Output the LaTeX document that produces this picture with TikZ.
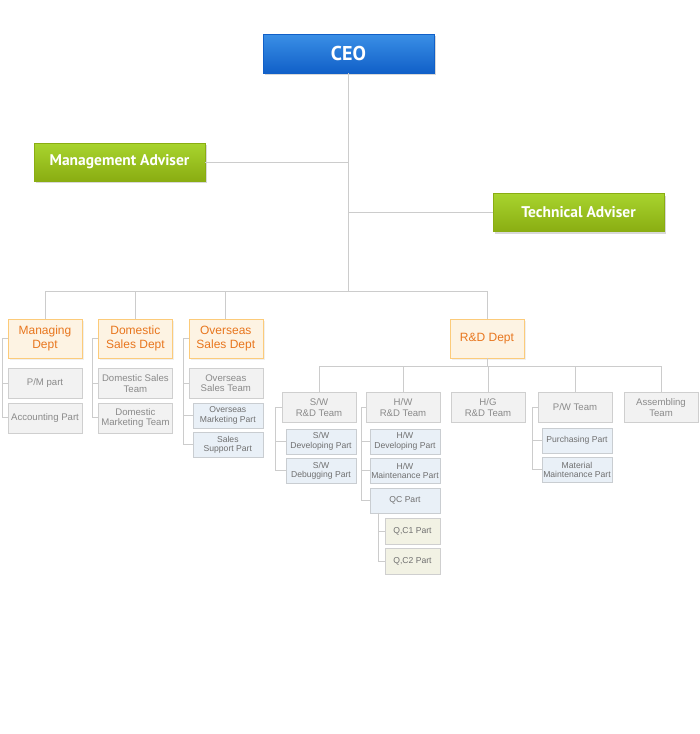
\documentclass[tikz,border=0pt]{standalone}
\usepackage{fontspec}
\setmainfont{Liberation Sans}
\newfontfamily\headfont{PT Sans}
\usetikzlibrary{positioning,calc,shadows}

\definecolor{ceoTop}{HTML}{3A8FE6}
\definecolor{ceoBot}{HTML}{1160C8}
\definecolor{advTop}{HTML}{A8D42E}
\definecolor{advBot}{HTML}{8AAD12}
\definecolor{deptFill}{HTML}{FDF3E3}
\definecolor{deptLine}{HTML}{FCCB7A}
\definecolor{deptText}{HTML}{E8761E}
\definecolor{teamFill}{HTML}{F2F2F2}
\definecolor{teamLine}{HTML}{CFCFCF}
\definecolor{teamText}{HTML}{8A8A8A}
\definecolor{partFill}{HTML}{E9F0F7}
\definecolor{partLine}{HTML}{C9CDD1}
\definecolor{partText}{HTML}{707070}
\definecolor{qcFill}{HTML}{F2F2E4}
\definecolor{wire}{HTML}{CCCCCC}

\begin{document}
\begin{tikzpicture}[x=1pt, y=-1pt]

% Define styles
\tikzstyle{base} = [rectangle, inner sep=0pt, align=center]
\tikzstyle{ceo} = [base, minimum width=171pt, minimum height=39pt, draw=ceoBot, top color=ceoTop, bottom color=ceoBot, text=white, font=\headfont\bfseries\fontsize{20}{22}\selectfont, drop shadow={opacity=0.3, shadow xshift=2pt, shadow yshift=-2pt}]
\tikzstyle{adviser} = [base, minimum width=171pt, minimum height=38pt, draw=advBot, top color=advTop, bottom color=advBot, text=white, font=\headfont\bfseries\fontsize{15.5}{17}\selectfont, drop shadow={opacity=0.3, shadow xshift=2pt, shadow yshift=-2pt}]
\tikzstyle{dept} = [base, minimum width=74pt, minimum height=39pt, draw=deptLine, fill=deptFill, text=deptText, font=\fontsize{12}{14}\selectfont, drop shadow={opacity=0.12, shadow xshift=2pt, shadow yshift=-2pt}]
\tikzstyle{team} = [base, minimum width=74pt, minimum height=30pt, draw=teamLine, fill=teamFill, text=teamText, font=\fontsize{9.6}{10.5}\selectfont]
\tikzstyle{part} = [base, minimum width=70pt, minimum height=25pt, draw=partLine, fill=partFill, text=partText, font=\fontsize{8.6}{9.5}\selectfont]
\tikzstyle{qc} = [base, minimum width=55pt, minimum height=26pt, draw=teamLine, fill=qcFill, text=partText, font=\fontsize{8.6}{9.5}\selectfont]
\tikzstyle{wire} = [draw=wire, line width=1pt]

\useasboundingbox[fill=white] (0,0) rectangle (700,734);

% Top: CEO and advisers
\node (ceo) [ceo] at (348.5,53.5) {CEO};
\node (mgmt) [adviser] at (119.5,162) {Management Adviser};
\node (tech) [adviser] at (578.5,212.5) {Technical Adviser};

% Departments
\node (managing) [dept] at (45,338.5) {Managing\\Dept};
\node (domestic) [dept, right=16pt of managing] {Domestic\\Sales Dept};
\node (overseas) [dept, right=16pt of domestic] {Overseas\\Sales Dept};
\node (rnd) [dept] at (487,338.5) {R\&D Dept};

% Managing / Sales children
\node (pm) [team, below right=10pt and 0pt of managing.south west] {P/M part};
\node (account) [team, below=4pt of pm] {Accounting Part};
\node (dsales) [team, below right=10pt and 0pt of domestic.south west] {Domestic Sales\\Team};
\node (dmarket) [team, below=4pt of dsales] {Domestic\\Marketing Team};
\node (osales) [team, below right=10pt and 0pt of overseas.south west] {Overseas\\Sales Team};
\node (omarket) [part, below left=4pt and 0pt of osales.south east] {Overseas\\Marketing Part};
\node (support) [part, below=4pt of omarket] {Sales\\Support Part};

% R&D teams
\node (swteam) [team] at (319,407.5) {S/W\\R\&D Team};
\node (hwteam) [team] at (403,407.5) {H/W\\R\&D Team};
\node (hgteam) [team] at (488,407.5) {H/G\\R\&D Team};
\node (pwteam) [team] at (575,407.5) {P/W Team};
\node (assembly) [team] at (661,407.5) {Assembling\\Team};

% R&D parts
\node (swdev) [part, below left=6pt and 0pt of swteam.south east] {S/W\\Developing Part};
\node (swdebug) [part, below=4pt of swdev] {S/W\\Debugging Part};
\node (hwdev) [part, below left=6pt and 0pt of hwteam.south east] {H/W\\Developing Part};
\node (hwmaint) [part, below=4pt of hwdev] {H/W\\Maintenance Part};
\node (qcpart) [part, below=4pt of hwmaint] {QC Part};
\node (qc1) [qc, below left=5pt and 0pt of qcpart.south east] {Q,C1 Part};
\node (qc2) [qc, below=4pt of qc1] {Q,C2 Part};
\node (purchase) [part, below left=5pt and 0pt of pwteam.south east] {Purchasing Part};
\node (material) [part, below=4pt of purchase] {Material\\Maintenance Part};

% CEO trunk and advisers
\coordinate (bus) at (348.5,291);
\draw [wire] (ceo.south) -- (bus);
\draw [wire] (mgmt.east) -- (mgmt.east -| ceo.south);
\draw [wire] (tech.west) -- (tech.west -| ceo.south);
\foreach \d in {managing, domestic, overseas, rnd}
  \draw [wire] (bus) -| (\d.north);

% R&D bus
\coordinate (rdbus) at ($(rnd.south)+(0,8)$);
\draw [wire] (rnd.south) -- (rdbus);
\foreach \t in {swteam, hwteam, hgteam, pwteam, assembly}
  \draw [wire] (rdbus) -| (\t.north);

% Side branches
\foreach \c in {managing, pm, account}
  \draw [wire] (managing.west) -- ++(-5,0) |- (\c.west);
\foreach \c in {domestic, dsales, dmarket}
  \draw [wire] (domestic.west) -- ++(-6,0) |- (\c.west);
\foreach \c in {overseas, osales, omarket, support}
  \draw [wire] (overseas.west) -- ++(-5,0) |- (\c.west);
\foreach \c in {swdev, swdebug}
  \draw [wire] (swteam.west) -- ++(-6,0) |- (\c.west);
\foreach \c in {hwdev, hwmaint, qcpart}
  \draw [wire] (hwteam.west) -- ++(-4,0) |- (\c.west);
\foreach \c in {qc1, qc2}
  \draw [wire] ($(qcpart.south west)+(9,0)$) |- (\c.west);
\foreach \c in {purchase, material}
  \draw [wire] (pwteam.west) -- ++(-5,0) |- (\c.west);

\end{tikzpicture}
\end{document}
